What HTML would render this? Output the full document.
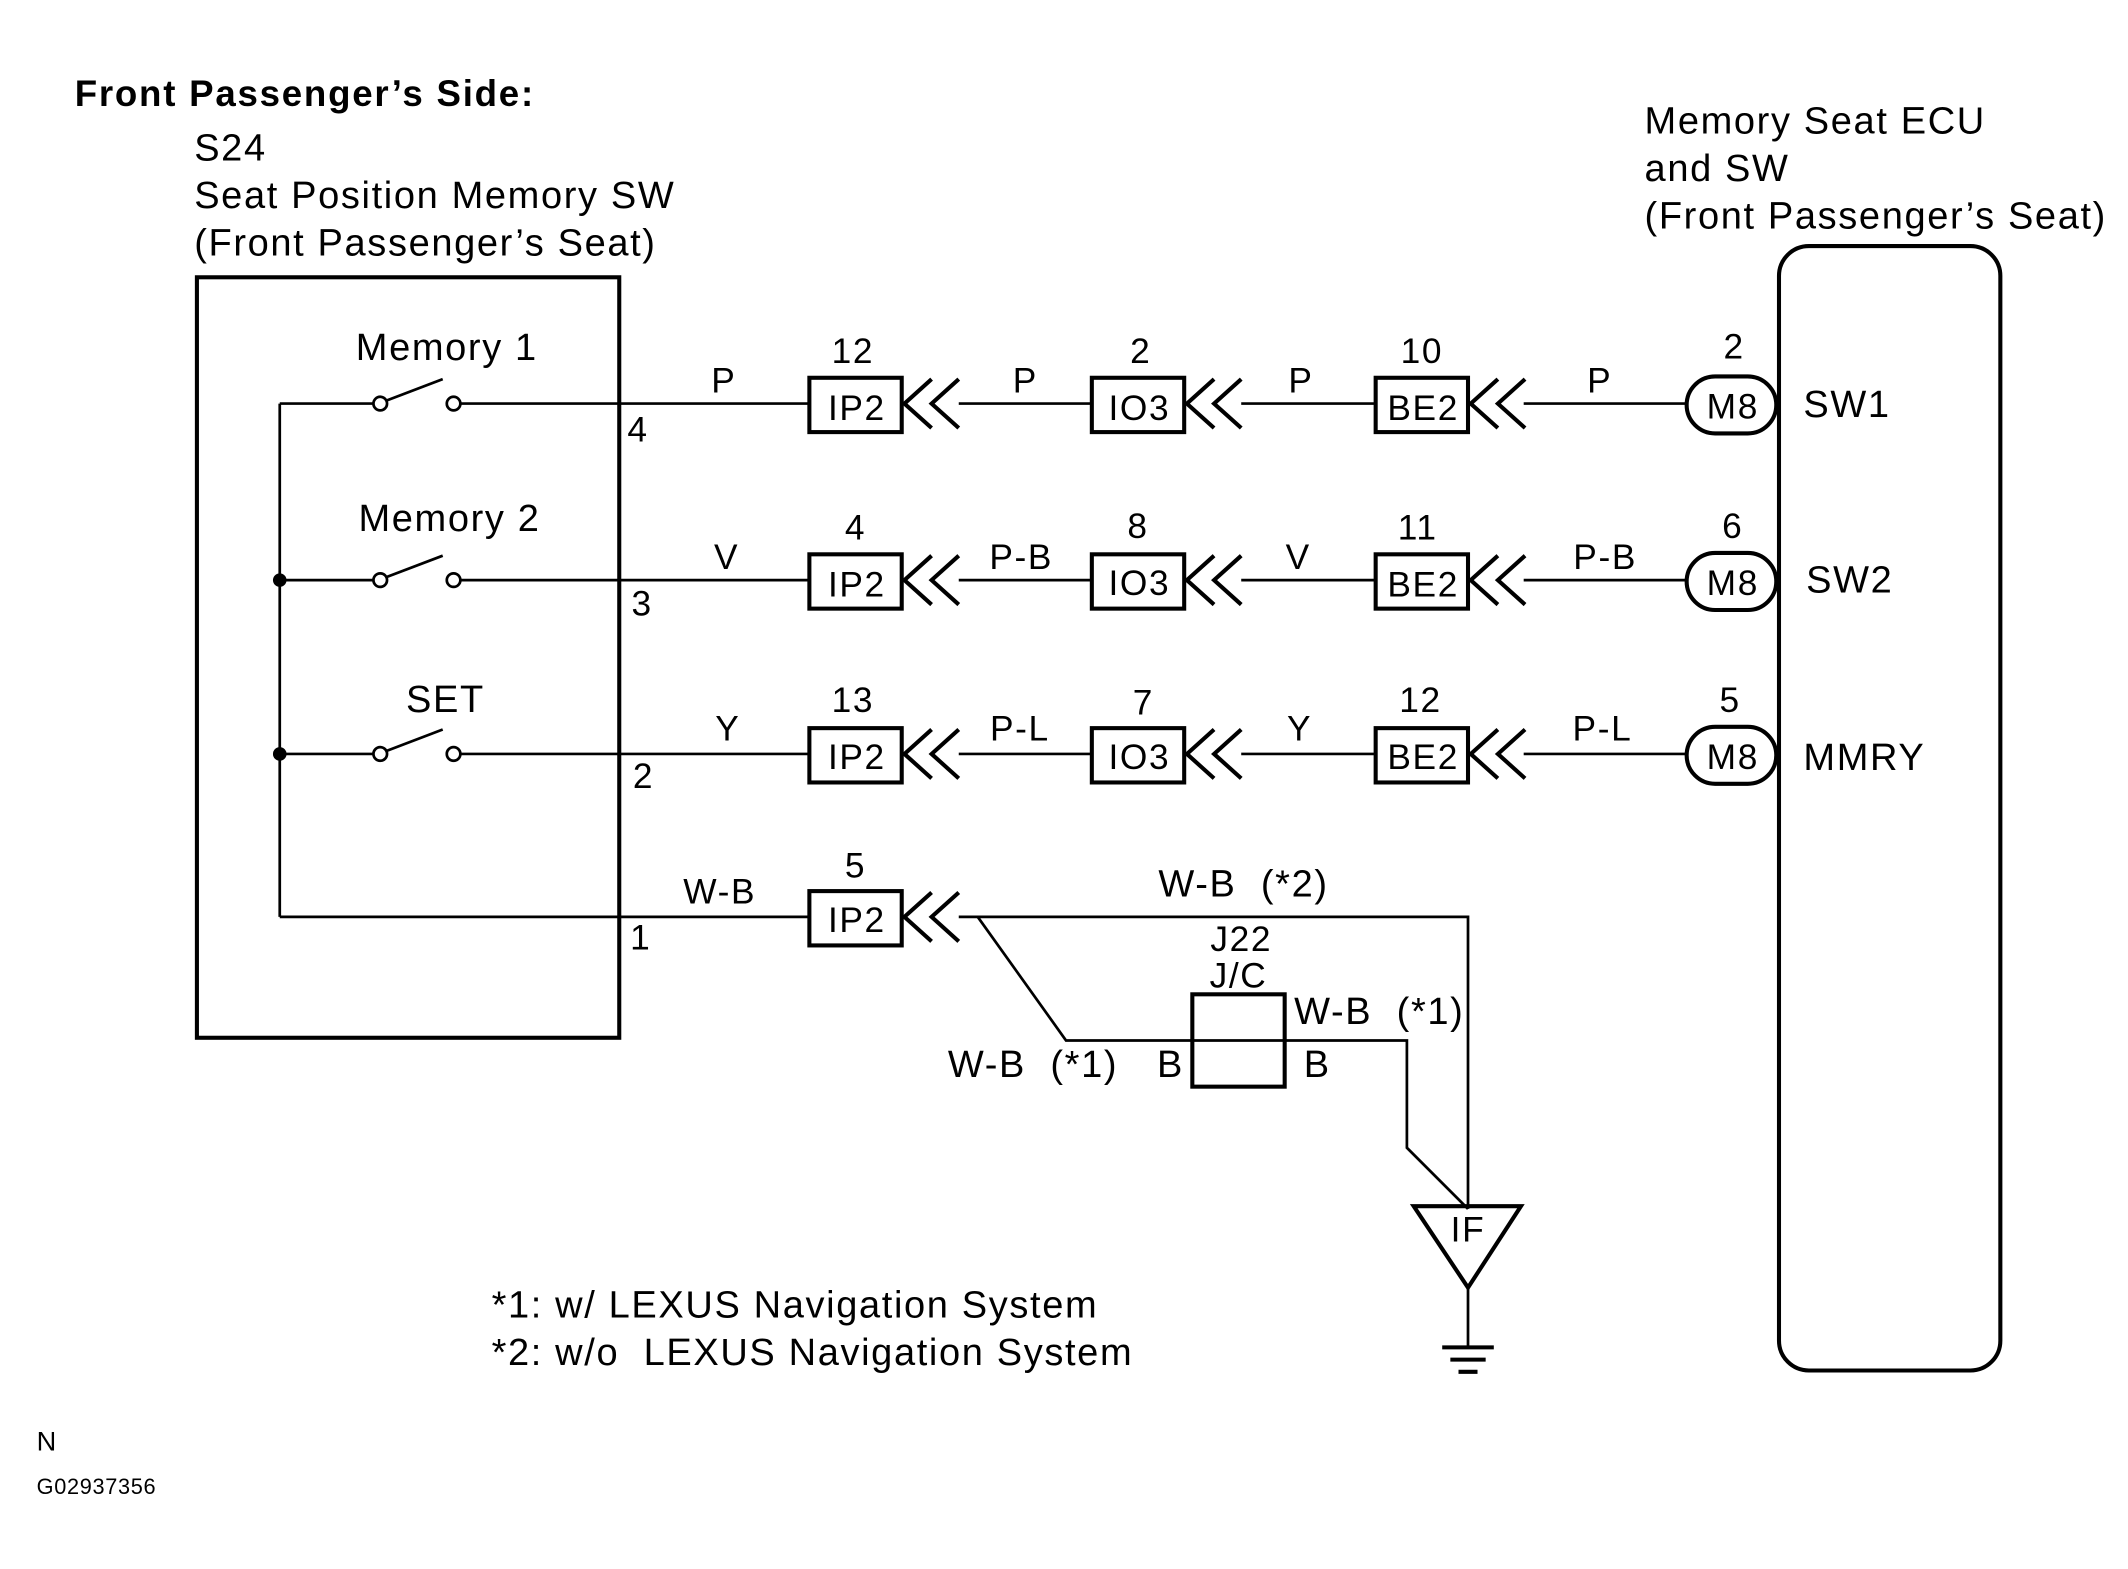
<!DOCTYPE html>
<html><head><meta charset="utf-8"><style>
html,body{margin:0;padding:0;background:#fff;}
svg{display:block;}
text{font-family:"Liberation Sans",Arial,sans-serif;fill:#000;letter-spacing:1.2px;}
</style></head><body>
<svg width="2128" height="1569" viewBox="0 0 1567 1155" xmlns="http://www.w3.org/2000/svg">
<g font-size="28">
<text x="55" y="78" font-weight="bold" font-size="27" style="letter-spacing:1.3px">Front Passenger’s Side:</text>
<text x="143" y="118">S24</text>
<text x="143" y="153">Seat Position Memory SW</text>
<text x="143" y="188">(Front Passenger’s Seat)</text>
<text x="1211" y="98">Memory Seat ECU</text>
<text x="1211" y="133">and SW</text>
<text x="1211" y="168">(Front Passenger’s Seat)</text>
</g>
<g stroke="#000" fill="none" stroke-width="2">
<rect x="145" y="204" width="311" height="560" stroke-width="3"/>
<rect x="1310" y="181" width="163" height="828" rx="22" stroke-width="3"/>
<line x1="206" y1="297" x2="206" y2="675"/>
<line x1="206" y1="297" x2="275" y2="297"/>
<line x1="206" y1="427" x2="275" y2="427"/>
<line x1="206" y1="555" x2="275" y2="555"/>
<line x1="206" y1="675" x2="596" y2="675"/>
<line x1="339" y1="297" x2="596" y2="297"/>
<line x1="339" y1="427" x2="596" y2="427"/>
<line x1="339" y1="555" x2="596" y2="555"/>
<circle cx="280" cy="297" r="5"/><circle cx="334" cy="297" r="5"/>
<circle cx="280" cy="427" r="5"/><circle cx="334" cy="427" r="5"/>
<circle cx="280" cy="555" r="5"/><circle cx="334" cy="555" r="5"/>
<line x1="284" y1="295" x2="326" y2="279"/>
<line x1="284" y1="425" x2="326" y2="409"/>
<line x1="284" y1="553" x2="326" y2="537"/>
</g>
<circle cx="206" cy="427" r="5" fill="#000"/>
<circle cx="206" cy="555" r="5" fill="#000"/>
<g font-size="28" text-anchor="middle">
<text x="329" y="265">Memory 1</text>
<text x="331" y="391">Memory 2</text>
<text x="328" y="524">SET</text>
</g>
<g font-size="26">
<text x="462" y="325">4</text><text x="465" y="453">3</text>
<text x="466" y="580">2</text><text x="464" y="699">1</text>
</g>
<g stroke="#000" fill="none" stroke-width="2">
<line x1="706" y1="297" x2="804" y2="297"/><line x1="914" y1="297" x2="1013" y2="297"/><line x1="1122" y1="297" x2="1242" y2="297"/>
<line x1="706" y1="427" x2="804" y2="427"/><line x1="914" y1="427" x2="1013" y2="427"/><line x1="1122" y1="427" x2="1242" y2="427"/>
<line x1="706" y1="555" x2="804" y2="555"/><line x1="914" y1="555" x2="1013" y2="555"/><line x1="1122" y1="555" x2="1242" y2="555"/>
<polyline points="706,675 1081,675 1081,890"/>
<polyline points="720,675 785,766 878,766"/>
<polyline points="946,766 1036,766 1036,845 1081,890"/>
<polygon points="1041,888 1120,888 1081,948" stroke-width="3"/>
<line x1="1081" y1="948" x2="1081" y2="992"/>
<line x1="1062" y1="992" x2="1100" y2="992" stroke-width="3"/>
<line x1="1068" y1="1001" x2="1094" y2="1001" stroke-width="3"/>
<line x1="1074" y1="1010" x2="1088" y2="1010" stroke-width="3"/>
<rect x="878" y="732" width="68" height="68" stroke-width="3"/>
<line x1="878" y1="766" x2="946" y2="766"/>
</g>
<g stroke="#000" fill="none" stroke-width="3">
<rect x="596" y="278" width="68" height="40"/><rect x="804" y="278" width="68" height="40"/><rect x="1013" y="278" width="68" height="40"/>
<rect x="596" y="408" width="68" height="40"/><rect x="804" y="408" width="68" height="40"/><rect x="1013" y="408" width="68" height="40"/>
<rect x="596" y="536" width="68" height="40"/><rect x="804" y="536" width="68" height="40"/><rect x="1013" y="536" width="68" height="40"/>
<rect x="596" y="656" width="68" height="40"/>
<rect x="1242" y="277" width="66" height="42" rx="21"/>
<rect x="1242" y="407" width="66" height="42" rx="21"/>
<rect x="1242" y="535" width="66" height="42" rx="21"/>
<g id="ch">
<polyline points="686,279 666,297 686,315"/><polyline points="706,279 686,297 706,315"/>
</g>
<use href="#ch" x="208"/><use href="#ch" x="417"/>
<use href="#ch" y="130"/><use href="#ch" x="208" y="130"/><use href="#ch" x="417" y="130"/>
<use href="#ch" y="258"/><use href="#ch" x="208" y="258"/><use href="#ch" x="417" y="258"/>
<use href="#ch" y="378"/>
</g>
<g font-size="26" text-anchor="middle">
<text x="631" y="309">IP2</text><text x="839" y="309">IO3</text><text x="1048" y="309">BE2</text><text x="1276" y="308">M8</text>
<text x="631" y="439">IP2</text><text x="839" y="438">IO3</text><text x="1048" y="439">BE2</text><text x="1276" y="438">M8</text>
<text x="631" y="566">IP2</text><text x="839" y="566">IO3</text><text x="1048" y="566">BE2</text><text x="1276" y="566">M8</text>
<text x="631" y="686">IP2</text>
<text x="1081" y="914">IF</text>
<text x="628" y="267">12</text><text x="840" y="267">2</text><text x="1047" y="267">10</text><text x="1277" y="264">2</text>
<text x="630" y="397">4</text><text x="838" y="396">8</text><text x="1044" y="397">11</text><text x="1276" y="396">6</text>
<text x="628" y="524">13</text><text x="842" y="526">7</text><text x="1046" y="524">12</text><text x="1274" y="524">5</text>
<text x="630" y="646">5</text>
<text x="533" y="289">P</text><text x="755" y="289">P</text><text x="958" y="289">P</text><text x="1178" y="289">P</text>
<text x="535" y="419">V</text><text x="752" y="419">P-B</text><text x="956" y="419">V</text><text x="1182" y="419">P-B</text>
<text x="536" y="545">Y</text><text x="751" y="545">P-L</text><text x="957" y="545">Y</text><text x="1180" y="545">P-L</text>
<text x="530" y="665">W-B</text>
<text x="914" y="700">J22</text><text x="912" y="727">J/C</text>
</g>
<g font-size="28">
<text x="1328" y="307">SW1</text><text x="1330" y="436">SW2</text><text x="1328" y="567">MMRY</text>
<text x="853" y="660">W-B&#160; (*2)</text>
<text x="953" y="754">W-B&#160; (*1)</text>
<text x="698" y="793">W-B&#160; (*1)</text>
<text x="852" y="793">B</text><text x="960" y="793">B</text>
<text x="362" y="970">*1: w/ LEXUS Navigation System</text>
<text x="362" y="1005">*2: w/o&#160; LEXUS Navigation System</text>
<text x="27" y="1068" font-size="20">N</text>
<text x="27" y="1100" font-size="16" style="letter-spacing:0.5px">G02937356</text>
</g>
</svg>
</body></html>
